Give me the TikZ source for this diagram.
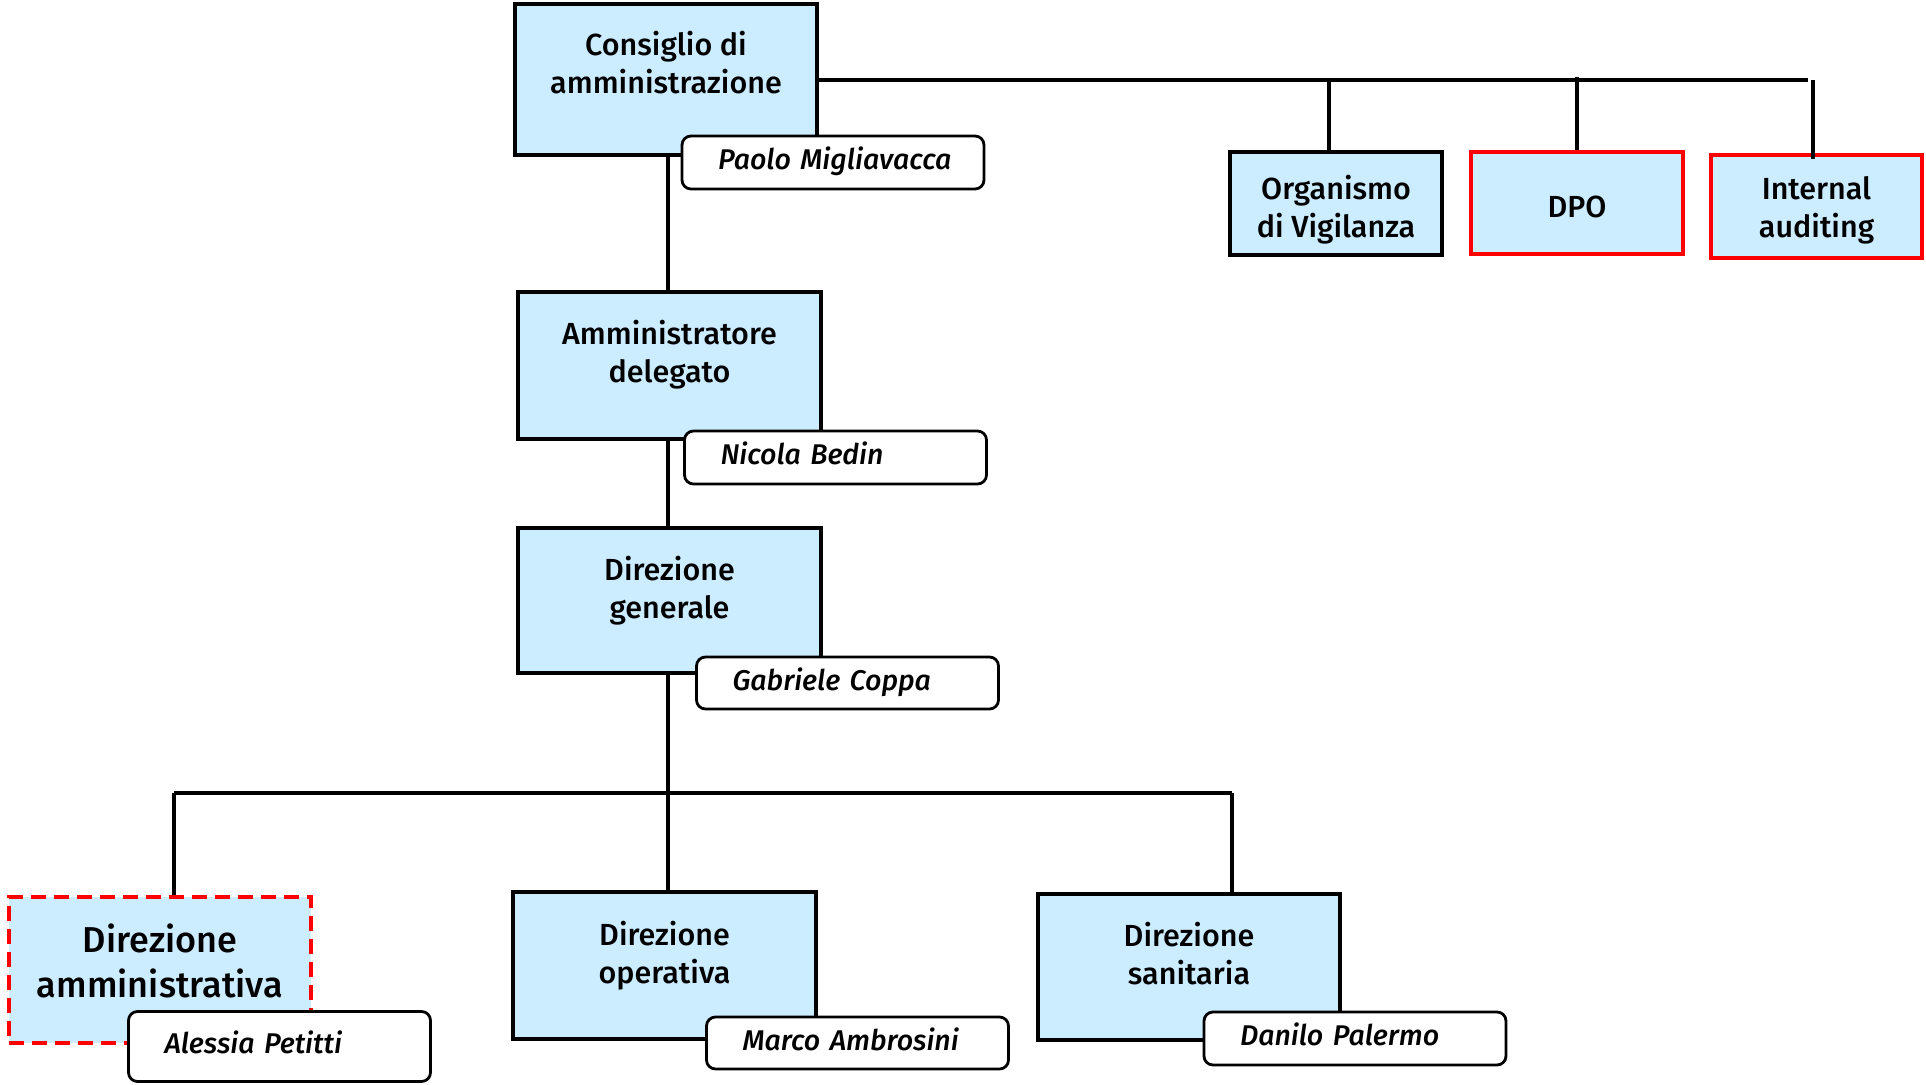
\documentclass[tikz,border=0pt]{standalone}
\usepackage{fontspec}
\setmainfont{Fira Sans}[UprightFont=* Medium, ItalicFont=* Medium Italic]
\definecolor{boxblue}{RGB}{204,236,255}
\definecolor{redline}{RGB}{255,0,0}
\begin{document}
\begin{tikzpicture}[x=1pt,y=-1pt,
  conn/.style={line width=3.6pt, black},
  orgbox/.style={draw=black, line width=3.6pt, fill=boxblue, inner sep=0pt},
  redbox/.style={draw=redline, line width=4.5pt, fill=boxblue, inner sep=0pt},
  dashbox/.style={draw=redline, line width=3.4pt, dash pattern=on 15pt off 8pt, fill=boxblue, inner sep=0pt},
  boxtext/.style={align=center, font=\fontsize{30.5}{38}\selectfont, inner sep=0pt},
  bigtext/.style={align=center, font=\fontsize{36}{45}\selectfont, inner sep=0pt},
  namebox/.style={draw=black, line width=2.8pt, fill=white, rounded corners=9pt,
     text width=302pt, inner xsep=0pt, inner ysep=0pt, align=left,
     text height=21pt, text depth=7pt,
     font=\fontsize{28.5}{32}\itshape\selectfont, execute at begin node={\hspace*{36pt}}}
]
\useasboundingbox (0,0) rectangle (1926,1084);

% junction coordinates
\coordinate (topend) at (1808,80);
\coordinate (j1) at (1329,80);
\coordinate (j2) at (1577,80);
\coordinate (j3) at (1813,80);
\coordinate (vx) at (668,0);
\coordinate (hl) at (174,793);
\coordinate (hm) at (668,793);
\coordinate (hr) at (1232,793);

% boxes
\node[orgbox, minimum width=302pt, minimum height=151pt] (cons) at (666,79.5) {};
\node[orgbox, minimum width=212pt, minimum height=103pt] (org) at (1336,203.5) {};
\node[redbox, minimum width=212pt, minimum height=102pt] (dpo) at (1577,203) {};
\node[redbox, minimum width=211pt, minimum height=103pt] (ia) at (1816.5,206.5) {};
\node[orgbox, minimum width=303pt, minimum height=147pt] (amm) at (669.5,365.5) {};
\node[orgbox, minimum width=303pt, minimum height=145pt] (dg) at (669.5,600.5) {};
\node[dashbox, minimum width=302pt, minimum height=146pt] (dam) at (160,970) {};
\node[orgbox, minimum width=303pt, minimum height=147pt] (dop) at (664.5,965.5) {};
\node[orgbox, minimum width=302pt, minimum height=146pt] (dsan) at (1189,967) {};

% connectors
\draw[conn] (cons.east |- topend) -- (topend);
\draw[conn] (j1) -- (j1 |- org.north);
\draw[conn] ([yshift=3pt]j2) -- (j2 |- dpo.north);
\draw[conn] (vx |- cons.south) -- (vx |- amm.north);
\draw[conn] (vx |- amm.south) -- (vx |- dg.north);
\draw[conn] (vx |- dg.south) -- (vx |- dop.north);
\draw[conn] (hl) -- (hr);
\draw[conn] (hl) -- (hl |- dam.north);
\draw[conn] (hr) -- (hr |- dsan.north);
\draw[conn] (j3) -- ([yshift=-6pt]j3 |- ia.north);

% box texts
\node[boxtext] (cons-t) at ([yshift=-60pt]cons.north) {Consiglio di\\amministrazione};
\node[boxtext] (org-t) at ([yshift=-6pt]org.center) {Organismo\\di Vigilanza};
\node[boxtext] (dpo-t) at ([yshift=-4pt]dpo.center) {DPO};
\node[boxtext] (ia-t) at ([yshift=-4pt]ia.center) {Internal\\auditing};
\node[boxtext] (amm-t) at ([yshift=-64pt]amm.north) {Amministratore\\delegato};
\node[boxtext] (dg-t) at ([yshift=-64pt]dg.north) {Direzione\\generale};
\node[bigtext] (dam-t) at ([yshift=-66pt]dam.north) {Direzione\\amministrativa};
\node[boxtext] (dop-t) at ([yshift=-65pt]dop.north) {Direzione\\operativa};
\node[boxtext] (dsan-t) at ([yshift=-61pt]dsan.north) {Direzione\\sanitaria};

% name labels
\node[namebox, minimum height=53pt] (paolo) at (833,162.5) {Paolo Migliavacca};
\node[namebox, minimum height=53pt] (nicola) at (835.5,457.5) {Nicola Bedin};
\node[namebox, minimum height=52pt] (gabriele) at (847.5,683) {Gabriele Coppa};
\node[namebox, minimum height=70pt] (alessia) at (279.5,1046.5) {Alessia Petitti};
\node[namebox, minimum height=52pt] (marco) at (857.5,1043) {Marco Ambrosini};
\node[namebox, minimum height=53pt] (danilo) at (1355,1038.5) {Danilo Palermo};
\end{tikzpicture}
\end{document}
